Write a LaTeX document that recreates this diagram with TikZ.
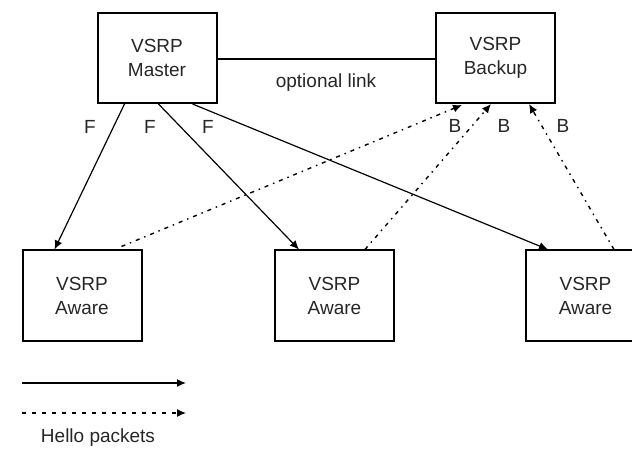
\documentclass[tikz,border=0pt]{standalone}
\usepackage{fontspec}
\setmainfont{Liberation Sans}
\usetikzlibrary{arrows.meta}
\begin{document}
\begin{tikzpicture}[x=1pt,y=-1pt,
  font=\fontsize{19}{24}\selectfont,
  unit/.style={draw=black, line width=2pt, minimum width=119pt, minimum height=90pt,
    inner sep=0pt, align=center, text=black!85},
  lbl/.style={inner sep=0pt, text=black!85},
  fwd/.style={line width=1.2pt, -{Latex[length=9pt,width=8pt]}},
  hello/.style={line width=1.4pt, dash pattern=on 4pt off 5pt on 1.5pt off 5pt,
    -{Latex[length=9pt,width=8pt]}},
  legdash/.style={line width=1.4pt, dash pattern=on 4pt off 6pt,
    -{Latex[length=9pt,width=8pt]}},
  legsolid/.style={line width=1.4pt, -{Latex[length=9pt,width=8pt]}}]
\useasboundingbox (0,0) rectangle (632,449);

% routers
\node[unit] (master) at (157,58) {VSRP\\Master};
\node[unit] (backup) at (495.5,58) {VSRP\\Backup};
\node[unit] (aw1) at (82,295.5) {VSRP\\Aware};
\node[unit] (aw2) at (334.5,295.5) {VSRP\\Aware};
\node[unit] (aw3) at (585.5,295.5) {VSRP\\Aware};

% master -- backup link
\draw[line width=1.4pt] (master.east |- 0,59) -- (backup.west |- 0,59);
\node[lbl] (opt) at (326,83) {optional link};

% hello packets from the master
\draw[fwd] ([xshift=28pt]master.south west) -- ([xshift=33pt]aw1.north west);
\draw[fwd] ([xshift=62pt]master.south west) -- ([xshift=25pt]aw2.north west);
\draw[fwd] ([xshift=96pt]master.south west) -- ([xshift=23pt]aw3.north west);
\node[lbl] (f1) at (90,127) {F};
\node[lbl] (f2) at (150,127) {F};
\node[lbl] (f3) at (208,127) {F};

% hello packets towards the backup
\draw[hello] ([xshift=100pt,yshift=3pt]aw1.north west) -- ([xshift=27pt,yshift=-1pt]backup.south west);
\draw[hello] ([xshift=91pt]aw2.north west) -- ([xshift=56pt]backup.south west);
\draw[hello] ([xshift=89pt]aw3.north west) -- ([xshift=94pt]backup.south west);
\node[lbl] (b1) at (455,126) {B};
\node[lbl] (b2) at (504,126) {B};
\node[lbl] (b3) at (563,126) {B};

% legend
\coordinate (ls1) at (22,383);
\coordinate (le1) at (186,383);
\coordinate (ls2) at (22,413);
\coordinate (le2) at (186,413);
\draw[legsolid] (ls1) -- (le1);
\draw[legdash] (ls2) -- (le2);
\node[lbl] (legend) at (98,438) {Hello packets};
\end{tikzpicture}
\end{document}
